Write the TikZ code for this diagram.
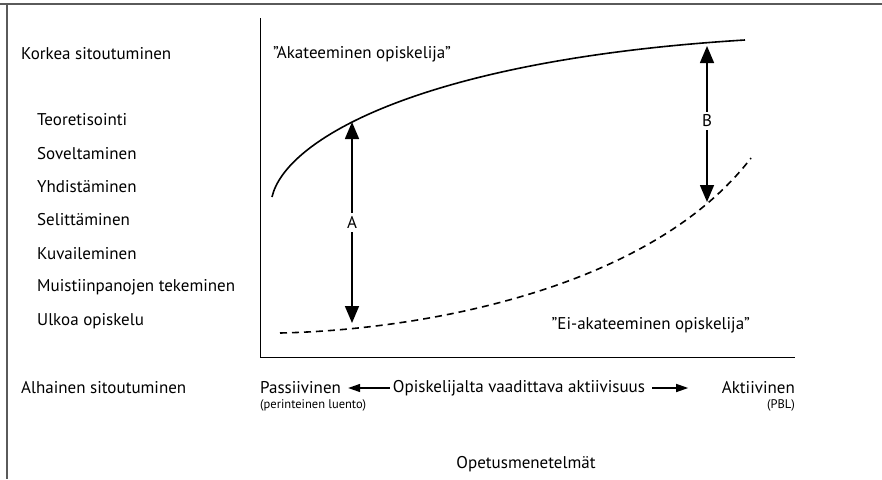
\documentclass[tikz,border=0pt]{standalone}
\usepackage{fontspec}
\setmainfont{PT Sans}
\usetikzlibrary{positioning, calc, arrows.meta}
\definecolor{FrameGray}{RGB}{90, 90, 90}

\begin{document}
\begin{tikzpicture}[x=1pt, y=-1pt,
          lbl/.style={anchor=west, inner sep=0pt, font=\fontsize{17}{19}\selectfont},
          small/.style={inner sep=0pt, font=\fontsize{12.5}{14}\selectfont},
          bigarr/.style={{Triangle[width=14pt,length=17pt]}-{Triangle[width=14pt,length=17pt]}, line width=1.6pt},
          arr/.style={-{Triangle[width=8pt,length=12pt]}, line width=1.4pt}
        ]
        \useasboundingbox (0,0) rectangle (882,479);
        % outer frame (cut off)
        \draw[FrameGray, line width=1.4pt] (0,4) -- (882,4);
        \draw[FrameGray, line width=1.4pt] (7,4) -- (7,479);

        % axes
        \coordinate (ytop) at (260,18);
        \coordinate (orig) at (260,357);
        \coordinate (xend) at (795,357);
        \draw[line width=1pt] (ytop) -- (orig) -- (xend);

        % left labels
        \node[lbl] (high) at (21,54)  {Korkea sitoutuminen};
        \node[lbl] (teo)  at (37,120) {Teoretisointi};
        \node[lbl] (sov)  at (37,154) {Soveltaminen};
        \node[lbl] (yhd)  at (37,187) {Yhdistäminen};
        \node[lbl] (sel)  at (37,220) {Selittäminen};
        \node[lbl] (kuv)  at (37,254) {Kuvaileminen};
        \node[lbl] (mui)  at (37,287) {Muistiinpanojen tekeminen};
        \node[lbl] (ulk)  at (37,321) {Ulkoa opiskelu};
        \node[lbl] (low)  at (21,388) {Alhainen sitoutuminen};

        % curves
        \coordinate (s0) at (272,197);
        \coordinate (s1) at (745,40);
        \draw[line width=1.6pt] (s0) .. controls (285,140) and (420,60) .. (s1);
        \coordinate (d0) at (280,333);
        \coordinate (d1) at (751,158);
        \draw[line width=1.6pt, dash pattern=on 7pt off 5pt] (d0) .. controls (420,330) and (650,290) .. (d1);

        \node[lbl] (akat) at (273,54) {”Akateeminen opiskelija”};
        \node[lbl, anchor=east] (eiak) at (750,325) {”Ei-akateeminen opiskelija”};

        % gaps A and B
        \coordinate (aTop) at (352,122);
        \coordinate (aBot) at (352,323);
        \draw[bigarr] (aBot) -- node[fill=white, lbl, anchor=center, inner sep=3pt] (labA) {A} (aTop);
        \coordinate (bTop) at (707,46);
        \coordinate (bBot) at (707,202);
        \draw[bigarr] (bBot) -- node[pos=0.52, fill=white, lbl, anchor=center, inner sep=3pt] (labB) {B} (bTop);

        % horizontal axis labels
        \node[lbl] (pass) at (260,388) {Passiivinen};
        \node[small, anchor=west] (luento) at (260,405) {(perinteinen luento)};
        \node[lbl, anchor=center] (akt) at (519,388) {Opiskelijalta vaadittava aktiivisuus};
        \node[lbl, anchor=east] (aktv) at (795,388) {Aktiivinen};
        \node[small, anchor=east] (pbl) at (795,405) {(PBL)};
        \draw[arr] ($(akt.west)+(-3,0)$) -- ($(pass.east)+(7,0)$);
        \draw[arr] ($(akt.east)+(7,0)$) -- ++(36,0);

        \node[lbl, anchor=center] (opet) at (526,464) {Opetusmenetelmät};
      \end{tikzpicture}
\end{document}
